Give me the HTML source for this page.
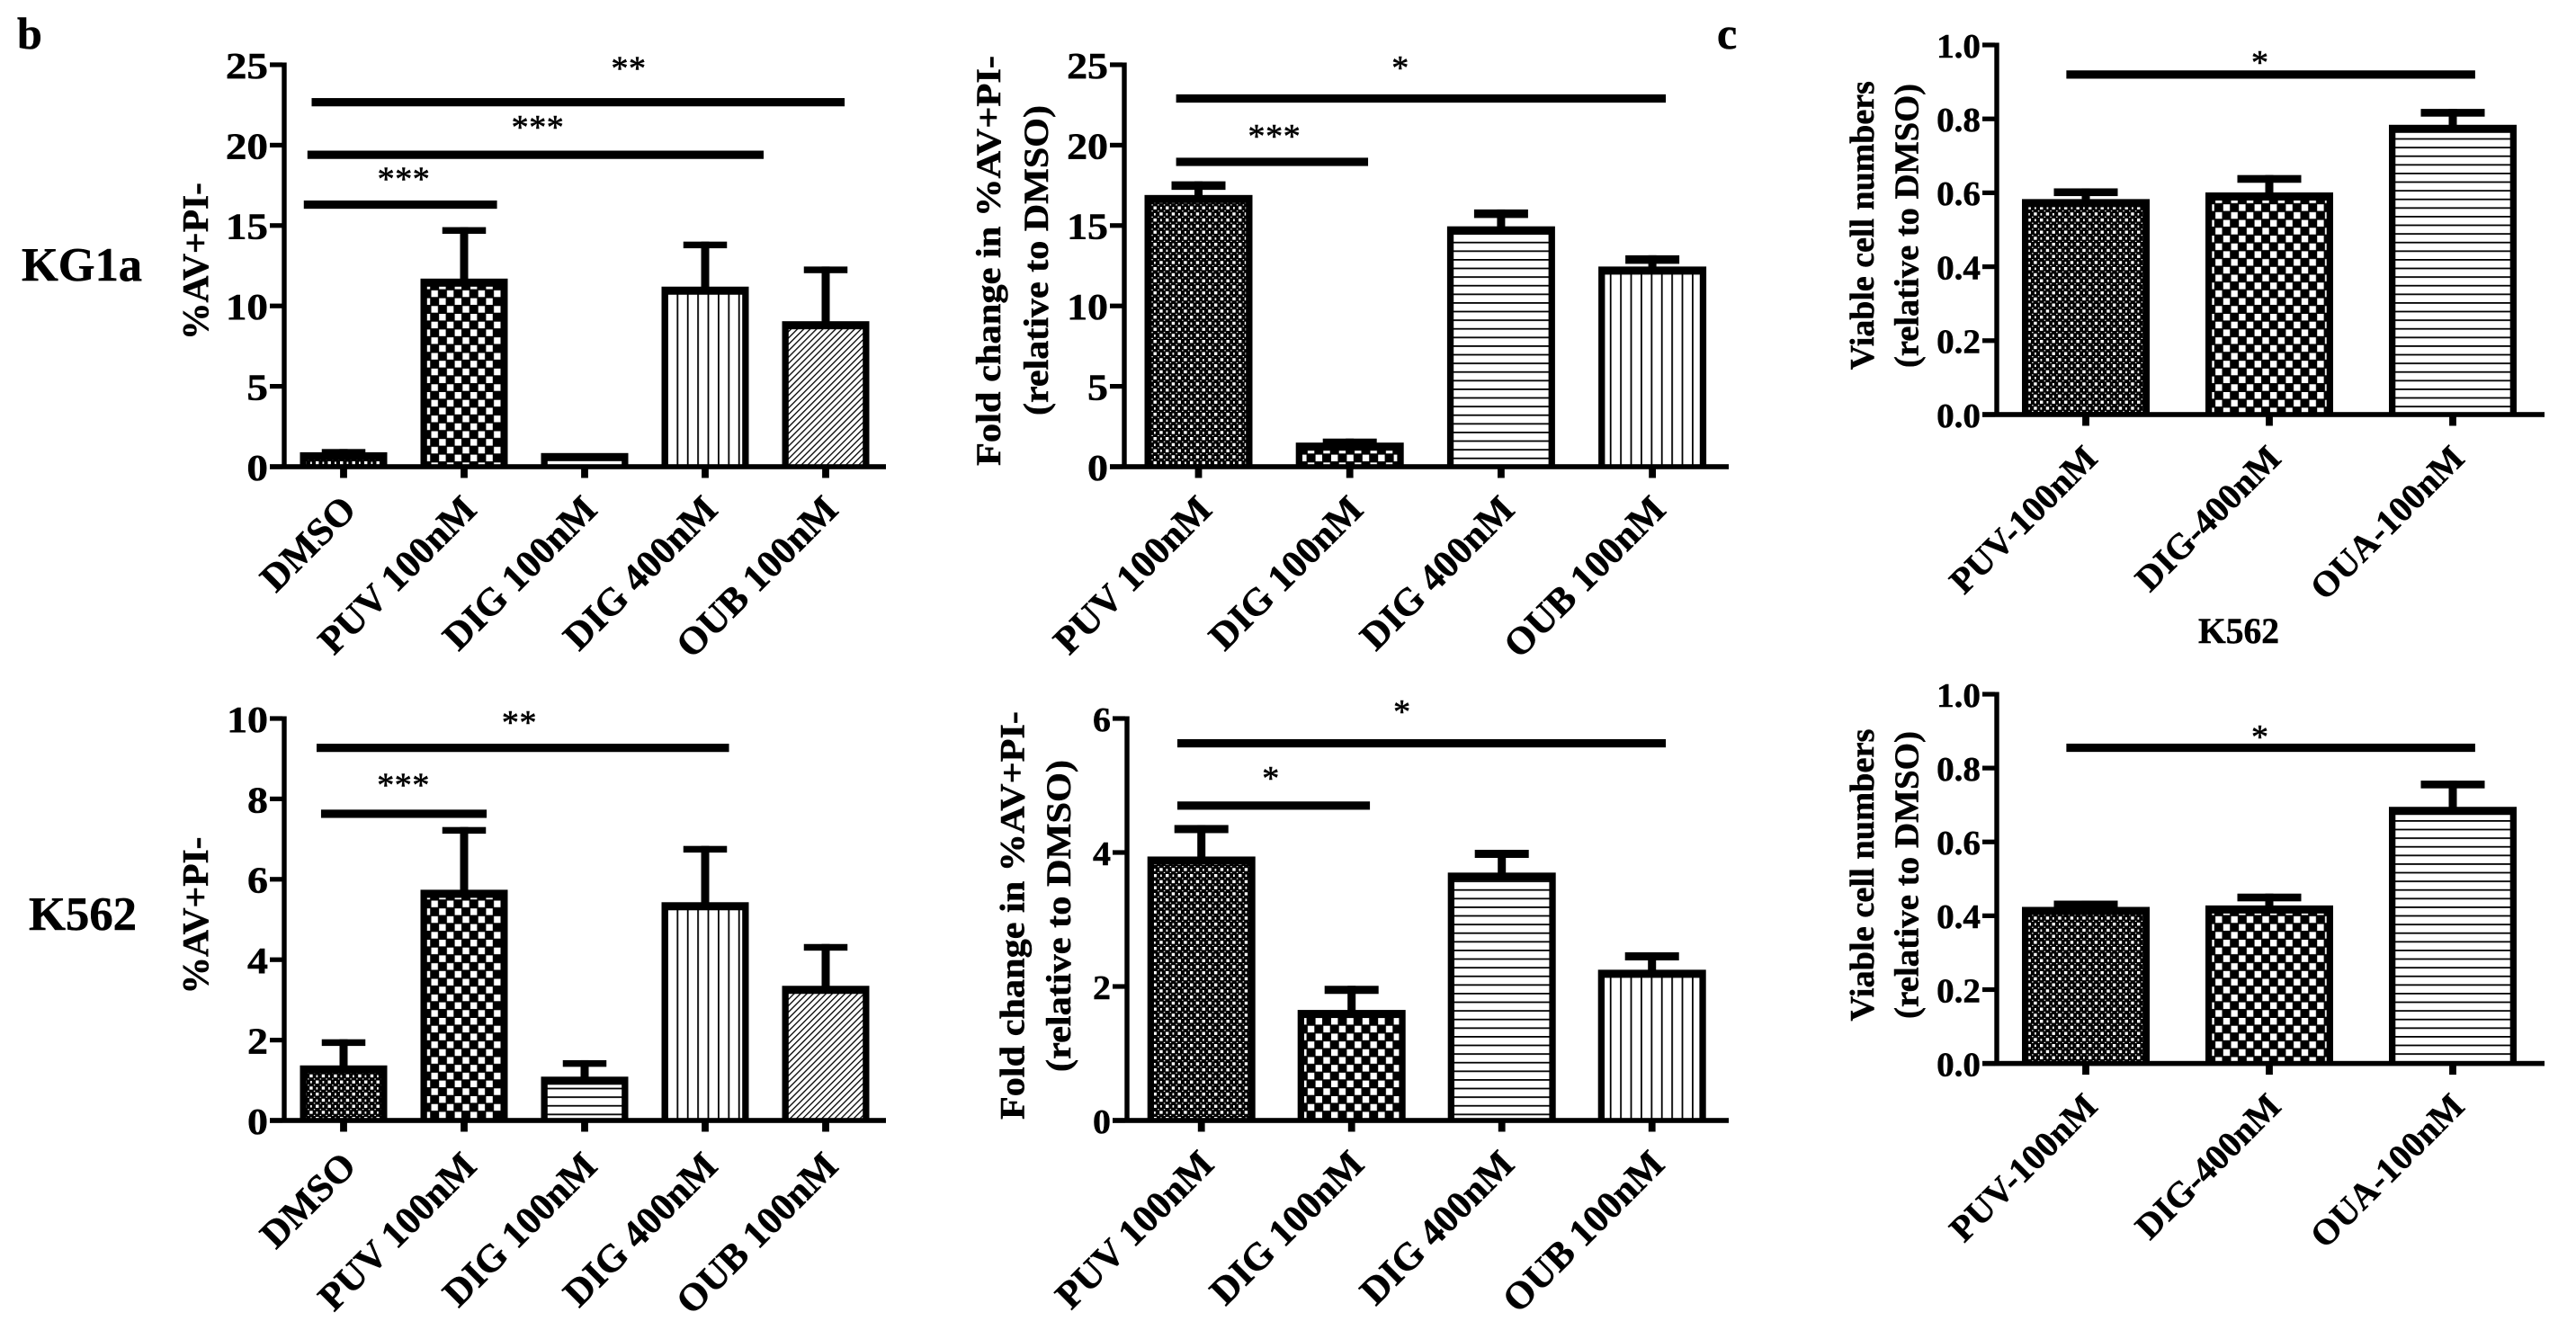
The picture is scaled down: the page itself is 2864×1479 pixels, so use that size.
<!DOCTYPE html>
<html lang="en">
<head>
<meta charset="utf-8">
<title>Apoptosis and viability bar charts</title>
<style>
html,body{margin:0;padding:0;background:#fff;}
svg{display:block;}
text{font-family:"Liberation Serif",serif;font-weight:bold;fill:#000;stroke:#000;stroke-width:0.5px;}
text.stars{font-weight:normal;stroke-width:0.6px;letter-spacing:0.6px;}
</style>
</head>
<body>
<svg xmlns="http://www.w3.org/2000/svg" width="2864" height="1479" viewBox="0 0 2864 1479">
<defs>
<pattern id="p-check" patternUnits="userSpaceOnUse" width="17.4" height="17.4">
<rect width="17.4" height="17.4" fill="#000"/>
<rect x="1" y="1" width="7.4" height="7.4" fill="#fff"/>
<rect x="9.7" y="9.7" width="7.4" height="7.4" fill="#fff"/>
</pattern>
<pattern id="p-dense" patternUnits="userSpaceOnUse" width="13.5" height="13.5">
<rect width="13.5" height="13.5" fill="#000"/>
<rect x="0" y="0" width="3.4" height="3.4" fill="#fff"/>
<rect x="6.75" y="6.75" width="3.4" height="3.4" fill="#fff"/>
<rect x="7.5" y="0.5" width="1.8" height="2.6" fill="#fff"/>
<rect x="0.5" y="7.5" width="1.8" height="2.6" fill="#fff"/>
<rect x="4.6" y="4.6" width="1.5" height="1.2" fill="#fff"/>
<rect x="11.3" y="4.6" width="1.5" height="1.2" fill="#fff"/>
<rect x="4.6" y="11.3" width="1.5" height="1.2" fill="#fff"/>
<rect x="11.3" y="11.3" width="1.5" height="1.2" fill="#fff"/>
</pattern>
<pattern id="p-horizontal" patternUnits="userSpaceOnUse" width="10" height="9.6">
<rect width="10" height="9.6" fill="#fff"/>
<rect y="0" width="10" height="1.8" fill="#000"/>
</pattern>
<pattern id="p-vertical" patternUnits="userSpaceOnUse" width="11.4" height="10">
<rect width="11.4" height="10" fill="#fff"/>
<rect x="0" width="1.8" height="10" fill="#000"/>
</pattern>
<pattern id="p-diagonal" patternUnits="userSpaceOnUse" width="5" height="5" patternTransform="rotate(45)">
<rect width="5" height="5" fill="#fff"/>
<rect x="0" width="1.3" height="5" fill="#000"/>
</pattern>
</defs>

<text x="19" y="54" font-size="50">b</text>
<text x="1909" y="54" font-size="50">c</text>
<text x="24" y="312" font-size="53" textLength="134" lengthAdjust="spacingAndGlyphs">KG1a</text>
<text x="32" y="1034" font-size="53" textLength="120" lengthAdjust="spacingAndGlyphs">K562</text>
<text x="2444" y="715" font-size="40" textLength="90" lengthAdjust="spacingAndGlyphs">K562</text>

<g id="kg1a-pct"></g>
<g id="kg1a-fold"></g>
<g id="kg1a-viable"></g>
<g id="k562-pct"></g>
<g id="k562-fold"></g>
<g id="k562-viable"></g>
</svg>

<script>
// ---- chart data ----
const treatments5 = ['DMSO', 'PUV 100nM', 'DIG 100nM', 'DIG 400nM', 'OUB 100nM'];
const treatments4 = ['PUV 100nM', 'DIG 100nM', 'DIG 400nM', 'OUB 100nM'];
const treatments3 = ['PUV-100nM', 'DIG-400nM', 'OUA-100nM'];

const ticks25 = ['0', '5', '10', '15', '20', '25'];
const ticks10 = ['0', '2', '4', '6', '8', '10'];
const ticks6 = ['0', '2', '4', '6'];
const ticks1 = ['0.0', '0.2', '0.4', '0.6', '0.8', '1.0'];

const kg1aPctValues = [0.9, 11.7, 0.85, 11.2, 9.05];
const kg1aPctErrors = [0.2, 3.2, 0, 2.8, 3.4];
const kg1aFoldValues = [16.9, 1.5, 14.95, 12.45];
const kg1aFoldErrors = [0.85, 0.25, 1.05, 0.7];
const kg1aViableValues = [0.583, 0.601, 0.784];
const kg1aViableErrors = [0.029, 0.047, 0.043];
const k562PctValues = [1.37, 5.74, 1.09, 5.43, 3.35];
const k562PctErrors = [0.65, 1.56, 0.41, 1.4, 1.04];
const k562FoldValues = [3.94, 1.65, 3.7, 2.25];
const k562FoldErrors = [0.47, 0.36, 0.34, 0.26];
const k562ViableValues = [0.424, 0.428, 0.695];
const k562ViableErrors = [0.017, 0.032, 0.071];

const fills5 = ['p-dense', 'p-check', 'p-horizontal', 'p-vertical', 'p-diagonal'];
const fills4 = ['p-dense', 'p-check', 'p-horizontal', 'p-vertical'];
const fills3 = ['p-dense', 'p-check', 'p-horizontal'];

// significance: category-unit span, level and star level in axis units
const kg1aPctSig = [
  {stars: '**', from: -0.265, to: 4.157, level: 22.67, mid: 2.366, starLevel: 25.07},
  {stars: '***', from: -0.3, to: 3.485, level: 19.4, mid: 1.612, starLevel: 21.4},
  {stars: '***', from: -0.33, to: 1.273, level: 16.3, mid: 0.5, starLevel: 18.2}
];
const kg1aFoldSig = [
  {stars: '*', from: -0.148, to: 3.089, level: 22.9, mid: 1.335, starLevel: 25.1},
  {stars: '***', from: -0.148, to: 1.121, level: 18.96, mid: 0.502, starLevel: 20.86}
];
const kg1aViableSig = [
  {stars: '*', from: -0.106, to: 2.122, level: 0.92, mid: 0.95, starLevel: 0.965}
];
const k562PctSig = [
  {stars: '**', from: -0.224, to: 3.198, level: 9.27, mid: 1.459, starLevel: 10.02},
  {stars: '***', from: -0.187, to: 1.187, level: 7.63, mid: 0.497, starLevel: 8.47}
];
const k562FoldSig = [
  {stars: '*', from: -0.16, to: 3.092, level: 5.63, mid: 1.337, starLevel: 6.17},
  {stars: '*', from: -0.16, to: 1.122, level: 4.7, mid: 0.463, starLevel: 5.18}
];
const k562ViableSig = [
  {stars: '*', from: -0.106, to: 2.122, level: 0.855, mid: 0.95, starLevel: 0.897}
];

// ---- drawing ----
const NS = 'http://www.w3.org/2000/svg';
function make(parent, tag, attrs, content) {
  const node = document.createElementNS(NS, tag);
  for (const k in attrs) node.setAttribute(k, attrs[k]);
  if (content !== undefined) node.textContent = content;
  parent.appendChild(node);
  return node;
}

function drawChart(o) {
  const root = document.getElementById(o.id);
  const yScale = v => o.base - (v / o.max) * (o.base - o.top);
  const xScale = i => o.x0 + i * o.step;
  const n = o.categories.length;

  // bars and error bars
  o.values.forEach((v, i) => {
    const cx = xScale(i);
    const left = cx - o.barW / 2;
    const topY = yScale(v);
    const errTop = yScale(v + o.errors[i]);
    if (o.errors[i] > 0) {
      const stem = make(root, 'rect', {x: cx - 4.5, y: errTop, width: 9, height: topY - errTop + 2, fill: '#000'});
      
      
      const cap = make(root, 'rect', {x: cx - o.barW / 4, y: errTop, width: o.barW / 2, height: o.capH, fill: '#000'});
      
      
    }
    const bar = make(root, 'rect', {x: left, y: topY, width: o.barW, height: o.base - topY, fill: '#000'});
    
    
    const innerTop = topY + 9;
    if (o.base - innerTop > 0) {
      const fillRect = make(root, 'rect', {x: left + 7.3, y: innerTop, width: o.barW - 14.6, height: o.base - innerTop, fill: 'url(#' + o.fills[i] + ')'});
      
      
    }
  });

  // axes
  const yAxis = make(root, 'rect', {x: o.axisX - 2.7, y: yScale(o.max) - 2.5, width: 5.4, height: o.base - yScale(o.max) + 5, fill: '#000'});
  
  
  const xAxis = make(root, 'rect', {x: o.axisX - 16, y: o.base - 2.8, width: o.axisEnd - o.axisX + 16, height: 5.6, fill: '#000'});
  
  

  // y ticks
  o.ticks.forEach(t => {
    const y = yScale(parseFloat(t));
    const tick = make(root, 'rect', {x: o.axisX - 16, y: y - 2.6, width: 14, height: 5.2, fill: '#000'});
    
    
    const label = make(root, 'text', {'text-anchor': 'end', 'font-size': o.tickFont, transform: 'translate(' + (o.axisX - 18) + ',' + (y + o.tickFont * 0.338 + 1) + ') scale(' + o.tickStretch + ',1)'}, t);
    
    
  });

  // x ticks and labels
  for (let i = 0; i < n; i++) {
    const cx = xScale(i);
    const tick = make(root, 'rect', {x: cx - 3.9, y: o.base, width: 7.8, height: 12.5, fill: '#000'});
    
    
    const label = make(root, 'text', {'text-anchor': 'end', 'font-size': o.catFont, transform: 'translate(' + (cx + o.catDx) + ',' + (o.base + o.catDy) + ') rotate(-45)'}, o.categories[i]);
    
    
  }

  // y-axis titles
  o.titles.forEach(t => {
    const title = make(root, 'text', {'text-anchor': 'middle', 'font-size': t.size, textLength: t.len, lengthAdjust: 'spacingAndGlyphs', transform: 'translate(' + t.x + ',' + t.y + ') rotate(-90)'}, t.text);
    
    
  });

  // significance annotations
  o.sig.forEach(s => {
    const x1 = xScale(s.from);
    const x2 = xScale(s.to);
    const line = make(root, 'rect', {x: x1, y: yScale(s.level) - 4.6, width: x2 - x1, height: 9.2, fill: '#000'});
    
    
    const star = make(root, 'text', {'class': 'stars', 'text-anchor': 'middle', 'font-size': 38, x: xScale(s.mid), y: yScale(s.starLevel) + 38 * 0.47}, s.stars);
    
    
  });
}

drawChart({id: 'kg1a-pct', categories: treatments5, values: kg1aPctValues, errors: kg1aPctErrors, fills: fills5, ticks: ticks25, sig: kg1aPctSig,
  max: 25, top: 72, base: 519, x0: 382, step: 134, barW: 97, capH: 7.4, axisX: 316, axisEnd: 985,
  tickFont: 41, tickStretch: 1.15, catFont: 43, catDx: 16, catDy: 50,
  titles: [{text: '%AV+PI-', x: 231, y: 290.5, len: 175, size: 41}]});

drawChart({id: 'kg1a-fold', categories: treatments4, values: kg1aFoldValues, errors: kg1aFoldErrors, fills: fills4, ticks: ticks25, sig: kg1aFoldSig,
  max: 25, top: 72, base: 519, x0: 1332.5, step: 168.2, barW: 120, capH: 9.5, axisX: 1250, axisEnd: 1922,
  tickFont: 41, tickStretch: 1.12, catFont: 43, catDx: 17, catDy: 50,
  titles: [{text: 'Fold change in %AV+PI-', x: 1112, y: 290, len: 456, size: 39},
           {text: '(relative to DMSO)', x: 1165, y: 289.5, len: 345, size: 39}]});

drawChart({id: 'kg1a-viable', categories: treatments3, values: kg1aViableValues, errors: kg1aViableErrors, fills: fills3, ticks: ticks1, sig: kg1aViableSig,
  max: 1, top: 50, base: 461, x0: 2319, step: 204, barW: 142, capH: 8.6, axisX: 2220, axisEnd: 2829,
  tickFont: 38, tickStretch: 1.03, catFont: 40, catDx: 15, catDy: 51,
  titles: [{text: 'Viable cell numbers', x: 2083, y: 250.7, len: 321, size: 38},
           {text: '(relative to DMSO)', x: 2132.5, y: 251, len: 316, size: 38}]});

drawChart({id: 'k562-pct', categories: treatments5, values: k562PctValues, errors: k562PctErrors, fills: fills5, ticks: ticks10, sig: k562PctSig,
  max: 10, top: 799, base: 1246, x0: 382, step: 134, barW: 97, capH: 7.4, axisX: 316, axisEnd: 985,
  tickFont: 41, tickStretch: 1.12, catFont: 43, catDx: 16, catDy: 53,
  titles: [{text: '%AV+PI-', x: 231, y: 1018, len: 175, size: 41}]});

drawChart({id: 'k562-fold', categories: treatments4, values: k562FoldValues, errors: k562FoldErrors, fills: fills4, ticks: ticks6, sig: k562FoldSig,
  max: 6, top: 799, base: 1246, x0: 1335.7, step: 167, barW: 120, capH: 9, axisX: 1253, axisEnd: 1922,
  tickFont: 38, tickStretch: 1.05, catFont: 43, catDx: 16, catDy: 51,
  titles: [{text: 'Fold change in %AV+PI-', x: 1138.5, y: 1018, len: 454, size: 39},
           {text: '(relative to DMSO)', x: 1190, y: 1018.5, len: 347, size: 39}]});

drawChart({id: 'k562-viable', categories: treatments3, values: k562ViableValues, errors: k562ViableErrors, fills: fills3, ticks: ticks1, sig: k562ViableSig,
  max: 1, top: 772, base: 1182.6, x0: 2319, step: 204, barW: 142, capH: 8.6, axisX: 2220, axisEnd: 2829,
  tickFont: 38, tickStretch: 1.03, catFont: 40, catDx: 15, catDy: 50,
  titles: [{text: 'Viable cell numbers', x: 2083, y: 973, len: 325, size: 38},
           {text: '(relative to DMSO)', x: 2132.5, y: 973, len: 320, size: 38}]});
</script>
</body>
</html>
